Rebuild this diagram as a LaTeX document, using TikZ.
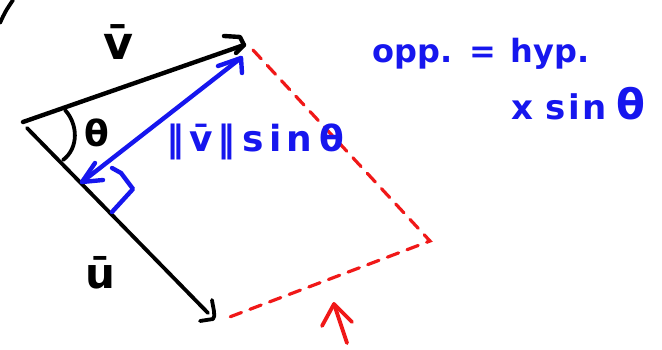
\documentclass[tikz,border=0pt]{standalone}
\usepackage{fontspec}
\setmainfont{DejaVu Sans}
\definecolor{penblue}{RGB}{22,22,238}
\definecolor{penred}{RGB}{240,24,24}
\begin{document}
\begin{tikzpicture}[x=1pt,y=-1pt,
  pen/.style={line width=4.4pt,line cap=round,line join=round},
  blackpen/.style={pen,black},
  thinpen/.style={line width=3.8pt,line cap=round,line join=round,black},
  bluepen/.style={pen,penblue},
  redpen/.style={line width=3.2pt,line cap=round,penred,dash pattern=on 12pt off 9pt},
  redarrow/.style={line width=3.8pt,line cap=round,line join=round,penred},
  lbl/.style={inner sep=0pt,anchor=center,font=\bfseries}]
\useasboundingbox (0,0) rectangle (662,350);
% key points
\coordinate (O1) at (23,122);
\coordinate (V) at (244,45);
\coordinate (O2) at (27,128);
\coordinate (U) at (208,313);
\coordinate (P) at (82,182);
\coordinate (Q) at (241,58);
\coordinate (R0) at (253,50);
\coordinate (C) at (430,241);
\coordinate (R1) at (227,318);
\coordinate (A1) at (347,343);
\coordinate (A2) at (334,304);
% fragment at top left
\draw[thinpen] (0,23) .. controls (5,12) .. (13,0);
% vector v
\draw[blackpen] (O1) -- (V);
\draw[blackpen] (V) ++(-20,-9) -- ++(16,1) -- ++(4,8) -- ++(-8,8);
% vector u
\draw[thinpen] (O2) -- (U);
\draw[thinpen] (U) ++(4,-13) .. controls +(1,8) and +(3,-3) .. ++(1,19) -- ++(-13,2);
% angle arc
\draw[thinpen] (65,110) .. controls (78,124) and (79,148) .. (63,160);
% blue perpendicular
\draw[bluepen] (P) -- (Q);
\draw[bluepen] (Q) ++(-23,8) -- ++(23,-8) -- ++(1,15);
\draw[bluepen] (P) ++(13,-19) -- ++(-13,19) -- ++(21,-2);
\draw[bluepen] (112,168) -- (121,173) -- (133,189) -- (112,212);
% red dashed completion
\draw[redpen] (R0) -- (C) -- (R1);
\draw[redarrow] (A1) -- (A2);
\draw[redarrow] (A2) ++(-12,22) -- ++(12,-22) -- ++(18,18);
% labels
\node[lbl,font=\bfseries\fontsize{46}{46}\selectfont] (vlab) at (118,42) {\={v}};
\node[lbl,font=\bfseries\fontsize{42}{42}\selectfont] (ulab) at (100,273) {\={u}};
\node[lbl,font=\bfseries\fontsize{36}{36}\selectfont] (theta) at (97,133) {θ};
\node[lbl,text=penblue,font=\bfseries\fontsize{36}{36}\selectfont] (len) at (255,142)
  {‖\hspace{5pt}\={v}\hspace{5pt}‖\hspace{7pt}s\hspace{5pt}i\hspace{5pt}n\hspace{7pt}θ};
\node[lbl,text=penblue,font=\bfseries\fontsize{32}{32}\selectfont,anchor=base west] (formula1) at (372,63)
  {opp.\hspace{17pt}=\hspace{15pt}hyp.};
\node[lbl,text=penblue,font=\bfseries\fontsize{34}{34}\selectfont,anchor=base west] (formula2) at (511,120)
  {x\hspace{12pt}s\hspace{3pt}i\hspace{2pt}n\hspace{10pt}{\fontsize{42}{42}\selectfont θ}};
\end{tikzpicture}
\end{document}
